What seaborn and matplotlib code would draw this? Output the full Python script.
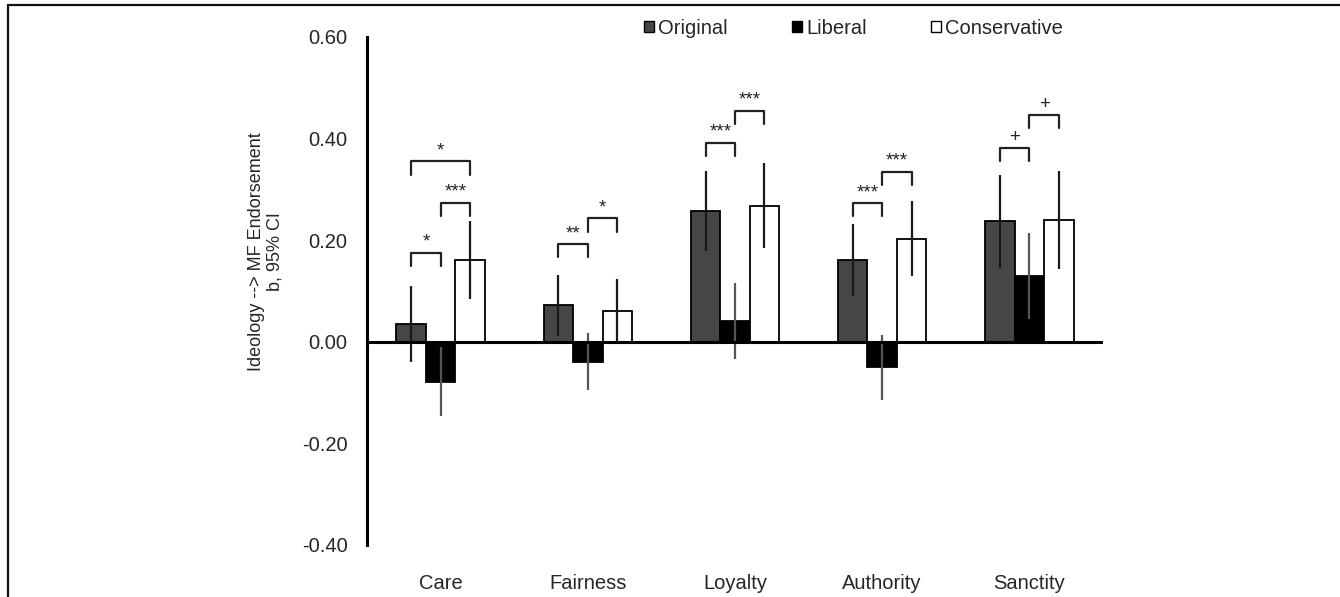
import numpy as np
import pandas as pd
import matplotlib
matplotlib.use("Agg")
import matplotlib.pyplot as plt
import seaborn as sns
from matplotlib.lines import Line2D
from matplotlib.patches import Patch

# ---------------- data ----------------
categories = ["Care", "Fairness", "Loyalty", "Authority", "Sanctity"]
groups = ["Original", "Liberal", "Conservative"]
original = [0.035, 0.072, 0.258, 0.161, 0.237]
liberal = [-0.079, -0.039, 0.041, -0.050, 0.129]
conservative = [0.161, 0.061, 0.268, 0.203, 0.240]
original_ci = [0.075, 0.060, 0.079, 0.071, 0.092]
liberal_ci = [0.068, 0.056, 0.074, 0.064, 0.085]
conservative_ci = [0.077, 0.062, 0.083, 0.074, 0.097]

# significance brackets
bracket_cat = [0, 0, 0, 1, 1, 2, 2, 3, 3, 4, 4]
bracket_from = [0, 1, 0, 0, 1, 0, 1, 0, 1, 0, 1]
bracket_to = [1, 2, 2, 1, 2, 1, 2, 1, 2, 1, 2]
bracket_y = [0.175, 0.274, 0.355, 0.192, 0.243, 0.392, 0.455, 0.273, 0.335, 0.382, 0.447]
bracket_lab = ["*", "***", "*", "**", "*", "***", "***", "***", "***", "+", "+"]

yticks = [-0.40, -0.20, 0.00, 0.20, 0.40, 0.60]

# ---------------- build frame ----------------
df = pd.DataFrame({
    "Foundation": categories * 3,
    "Group": sum([[g] * len(categories) for g in groups], []),
    "b": original + liberal + conservative,
})
ci = {"Original": original_ci, "Liberal": liberal_ci, "Conservative": conservative_ci}
vals = {"Original": original, "Liberal": liberal, "Conservative": conservative}

sns.set_style("white")
plt.rcParams["font.family"] = ["Liberation Sans", "DejaVu Sans"]

fig = plt.figure(figsize=(13.4, 5.97), dpi=100)
ax = fig.add_axes([367 / 1340, 52 / 597, 736 / 1340, 508 / 597])

face = {"Original": "#464646", "Liberal": "#000000", "Conservative": "#ffffff"}
sns.barplot(data=df, x="Foundation", y="b", hue="Group", order=categories,
            hue_order=groups, palette=face, width=0.6, errorbar=None,
            edgecolor="black", linewidth=1.3, ax=ax, legend=False, saturation=1)

err_col = {"Original": "#1a1a1a", "Liberal": "#555555", "Conservative": "#1a1a1a"}
centers = []
for gi, (g, cont) in enumerate(zip(groups, ax.containers)):
    xs = [p.get_x() + p.get_width() / 2 for p in cont.patches]
    centers.append(xs)
    ax.errorbar(xs, vals[g], yerr=ci[g], fmt="none", ecolor=err_col[g],
                elinewidth=1.6, capsize=0, zorder=5)

# zero line
ax.axhline(0, color="black", lw=2.2, zorder=6)

# brackets
leg = 0.026
for c, i, j, y, lab in zip(bracket_cat, bracket_from, bracket_to, bracket_y, bracket_lab):
    x1 = centers[i][c]
    x2 = centers[j][c]
    ax.plot([x1, x1, x2, x2], [y - leg, y, y, y - leg], color="#222222", lw=1.6,
            solid_joinstyle="round", solid_capstyle="round", zorder=6)
    ax.text((x1 + x2) / 2, y + 0.004, lab, ha="center", va="bottom",
            fontsize=13.5, color="#222222")

ax.set_ylim(-0.40, 0.60)
ax.set_xlim(-0.5, len(categories) - 0.5)
ax.set_yticks(yticks)
ax.set_yticklabels([f"{t:.2f}" for t in yticks], fontsize=14.5)
ax.tick_params(axis="y", length=0, pad=14)
ax.tick_params(axis="x", length=0, pad=21, labelsize=14.5)
ax.set_xlabel("")
ax.set_ylabel("Ideology --> MF Endorsement\nb, 95% CI", fontsize=13, linespacing=1.1)
ax.yaxis.set_label_coords(-0.114, 0.577)

for s in ["top", "right", "bottom"]:
    ax.spines[s].set_visible(False)
ax.spines["left"].set_color("black")
ax.spines["left"].set_linewidth(2.2)

handles = [Patch(facecolor=face[g], edgecolor="black", linewidth=1.0, label=g) for g in groups]
fig.legend(handles=handles, loc="center", bbox_to_anchor=(0.637, 0.953), ncol=3,
           frameon=False, fontsize=14.5, handlelength=0.5, handleheight=0.5,
           handletextpad=0.2, columnspacing=3.2)

# outer frame lines (top and left)
fig.add_artist(Line2D([8 / 1340, 1.0], [1 - 5 / 597, 1 - 5 / 597], color="#111111", lw=1.6,
                      transform=fig.transFigure))
fig.add_artist(Line2D([8 / 1340, 8 / 1340], [0, 1 - 5 / 597], color="#111111", lw=1.6,
                      transform=fig.transFigure))

fig.savefig("out.png", dpi=100)
